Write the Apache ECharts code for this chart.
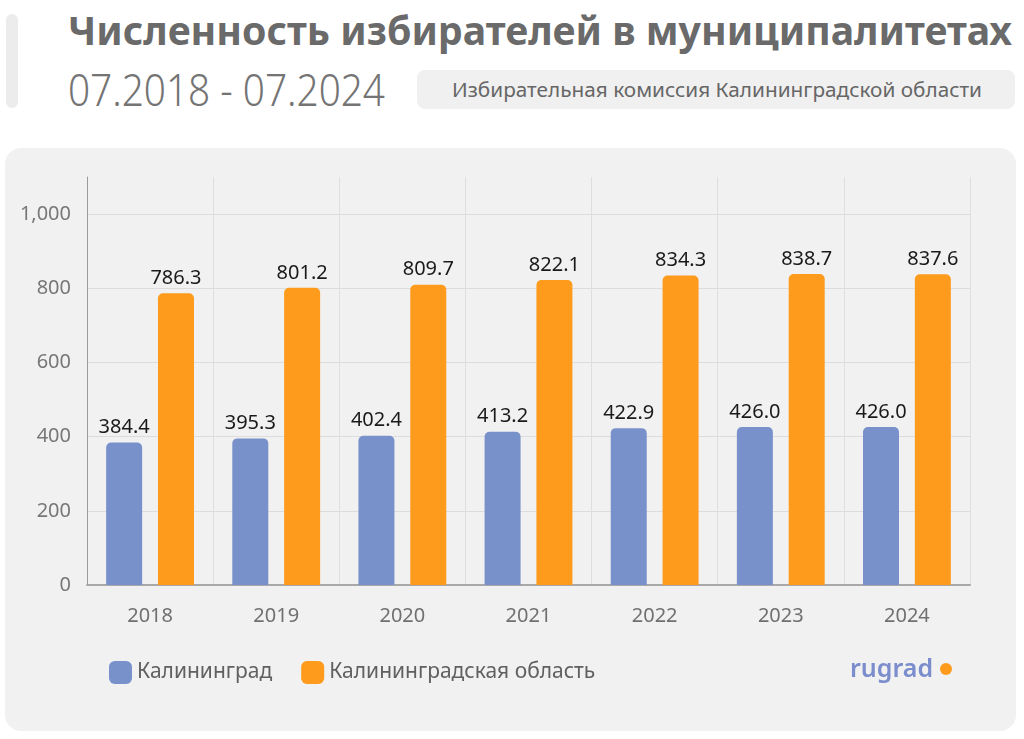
<!DOCTYPE html>
<html><head><meta charset="utf-8">
<script src="https://cdn.jsdelivr.net/npm/echarts@6/dist/echarts.min.js"></script>
<style>
html,body{margin:0;padding:0;background:#fff;width:1024px;height:739px;overflow:hidden;font-family:"Noto Sans",sans-serif;}
#accent{position:absolute;left:6px;top:14px;width:12px;height:94px;background:#ececec;border-radius:6px;}
#title{position:absolute;left:68px;top:4px;font-size:40px;font-weight:700;color:#6a6a6a;white-space:nowrap;transform-origin:0 0;line-height:52px;}
#sub{position:absolute;left:68px;top:62px;font-size:44px;font-weight:300;color:#747474;white-space:nowrap;transform-origin:0 0;line-height:54px;}
#src{position:absolute;left:417px;top:70px;width:598px;height:39px;background:#f0f0f0;border-radius:8px;}
#srct{position:absolute;left:452px;top:70px;font-size:20px;color:#666;white-space:nowrap;transform-origin:0 0;line-height:39px;}
#panel{position:absolute;left:5px;top:148px;width:1011px;height:583px;background:#f1f1f1;border-radius:16px;}
#chart{position:absolute;left:0;top:0;width:1024px;height:739px;}
</style></head>
<body>
<div id="accent"></div>
<div id="title">Численность избирателей в муниципалитетах</div>
<div id="sub">07.2018 - 07.2024</div>
<div id="src"></div>
<div id="srct">Избирательная комиссия Калининградской области</div>
<div id="panel"></div>
<div id="chart"></div>
<script>
const categories = ['2018','2019','2020','2021','2022','2023','2024'];
const seriesNames = ['Калининград','Калининградская область'];
const kaliningrad = [384.4, 395.3, 402.4, 413.2, 422.9, 426.0, 426.0];
const oblast = [786.3, 801.2, 809.7, 822.1, 834.3, 838.7, 837.6];

function fit(id, w){const el=document.getElementById(id);const r=el.getBoundingClientRect().width;el.style.transform='scaleX('+(w/r)+')';}
fit('title',944); fit('sub',317); fit('srct',530);

const chart = echarts.init(document.getElementById('chart'), null, {renderer:'canvas'});
const fontFam = '"Noto Sans", sans-serif';
const labelCfg = {show:true, position:'top', distance:5, color:'#1a1a1a', fontSize:20, fontFamily:fontFam, formatter:p=>p.value.toFixed(1)};
chart.setOption({
  backgroundColor:'transparent',
  animation:false,
  textStyle:{fontFamily:fontFam},
  grid:{left:87, right:54, top:177, bottom:154},
  legend:{left:104, top:656, itemWidth:23, itemHeight:23, itemGap:29, icon:'roundRect',
    textStyle:{color:'#606060', fontSize:21, fontFamily:fontFam}, data:seriesNames},
  xAxis:{type:'category', data:categories,
    axisLine:{lineStyle:{color:'#a8a8a8', width:2}},
    axisTick:{alignWithLabel:true, length:6, lineStyle:{color:'#aaa'}},
    axisLabel:{color:'#707070', fontSize:20, margin:21},
    splitLine:{show:true, lineStyle:{color:'#dedede'}}},
  yAxis:{type:'value', min:0, max:1100, interval:200,
    axisLine:{show:true, lineStyle:{color:'#9a9a9a'}},
    axisTick:{show:false},
    axisLabel:{color:'#777', fontSize:20, margin:16, showMaxLabel:false},
    splitLine:{show:true, showMaxLine:false, lineStyle:{color:'#dcdcdc'}}},
  series:[
    {name:seriesNames[0], type:'bar', data:kaliningrad, barWidth:36, barGap:'44%',
     itemStyle:{color:'#7891ca', borderRadius:[5,5,0,0]}, label:labelCfg},
    {name:seriesNames[1], type:'bar', data:oblast, barWidth:36,
     itemStyle:{color:'#fe9b1c', borderRadius:[5,5,0,0]}, label:labelCfg}
  ],
  graphic:[
    {type:'text', left:850, top:657, style:{text:'rugrad', fill:'#7b8dcc', font:'600 25px "Noto Sans", sans-serif'}},
    {type:'circle', shape:{cx:946, cy:669, r:6}, style:{fill:'#fe9b1c'}}
  ]
});
</script>
</body></html>
